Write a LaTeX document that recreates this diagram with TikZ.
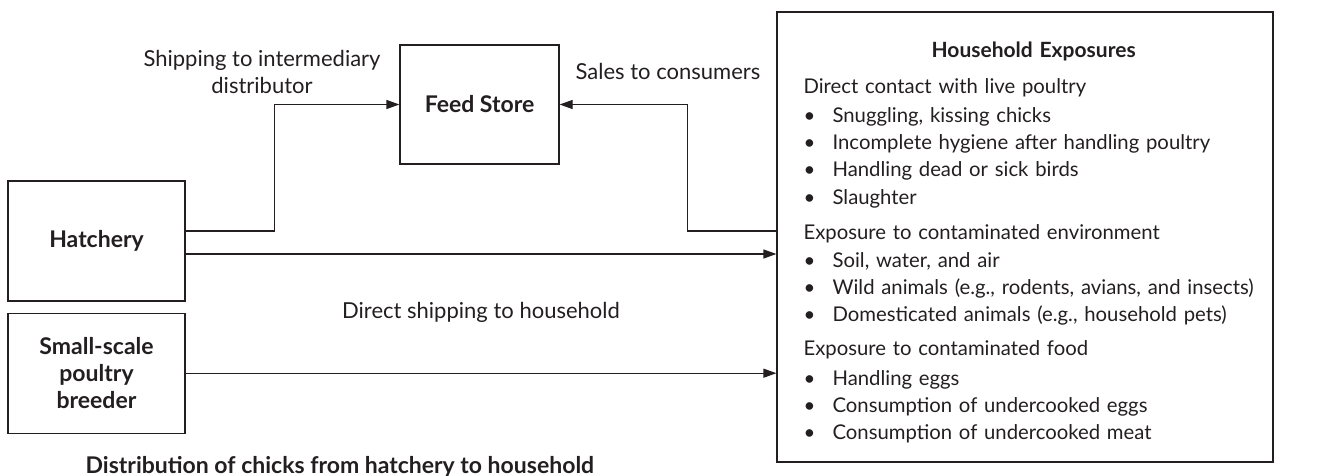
\documentclass[tikz,border=0pt]{standalone}
\usepackage{fontspec}
\setmainfont{Lato}
\usetikzlibrary{positioning,arrows.meta}
\definecolor{ink}{HTML}{231F20}
\newcommand{\hxitem}{\makebox[29pt][l]{\textbullet}}

\begin{document}
\begin{tikzpicture}[x=1pt, y=-1pt, node distance={11pt}, line width=1.2pt, draw=ink, text=ink,
    font=\fontsize{20.3}{27.3}\selectfont,
    box/.style = {draw=ink, rectangle, minimum width=177pt, minimum height=120pt, align=center, font=\fontsize{23}{27}\selectfont\bfseries},
    lbl/.style = {align=center, inner sep=0pt, font=\fontsize{22}{27}\selectfont},
    arr/.style = {draw=ink, -{Triangle[length=13pt, width=9pt]}}]
    \useasboundingbox (0,0) rectangle (1320,476);
    \node[box] (hatch) at (96.5,241) {Hatchery};
    \node[box] (breed) [below=of hatch] {Small-scale\\poultry\\breeder};
    \node[box, minimum width=159pt, minimum height=119pt] (feed) at (479.5,104.5) {Feed Store};
    \node[draw=ink, rectangle, minimum width=496pt, minimum height=450pt] (house) at (1025,237) {};
    \node[anchor=north west, inner sep=0pt, text width=460pt, align=left] (exposures) at (803,41) {%
      \makebox[\hsize]{\fontsize{21}{27}\selectfont\bfseries Household Exposures}\\[9pt]
      Direct contact with live poultry\\[1.5pt]
      \hxitem Snuggling, kissing chicks\\
      \hxitem Incomplete hygiene after handling poultry\\
      \hxitem Handling dead or sick birds\\
      \hxitem Slaughter\\[7.5pt]
      Exposure to contaminated environment\\[1pt]
      \hxitem Soil, water, and air\\
      \hxitem Wild animals (e.g., rodents, avians, and insects)\\
      \hxitem Domesticated animals (e.g., household pets)\\[6pt]
      Exposure to contaminated food\\[2.5pt]
      \hxitem Handling eggs\\
      \hxitem Consumption of undercooked eggs\\
      \hxitem Consumption of undercooked meat};
    \draw[arr] ([yshift=10pt]hatch.east) -- ++(89,0) |- (feed.west);
    \draw[arr] ([yshift=6pt]house.west) -- ++(-89,0) |- (feed.east);
    \draw[arr] ([yshift=-13pt]hatch.east) -- ([yshift=-13pt]hatch.east -| house.west);
    \draw[arr] (breed.east) -- (breed.east -| house.west);
    \node[lbl] (ship) at (262,72) {Shipping to intermediary\\distributor};
    \node[lbl, anchor=base] (sales) at (668,80) {Sales to consumers};
    \node[lbl, anchor=base] (direct) at (481,318) {Direct shipping to household};
    \node[lbl, anchor=base west, font=\fontsize{23}{27}\selectfont\bfseries] (caption) at (85,473) {Distribution of chicks from hatchery to household};
  \end{tikzpicture}
\end{document}
